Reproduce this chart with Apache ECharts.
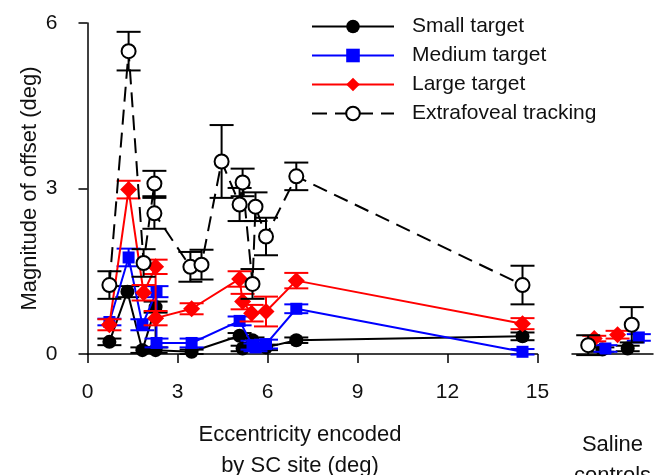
<!DOCTYPE html>
<html><head><meta charset="utf-8">
<script src="https://cdn.jsdelivr.net/npm/echarts@6/dist/echarts.min.js"></script>
<style>html,body{margin:0;padding:0;background:#fff}#c{width:655px;height:475px}</style>
</head><body><div id="c"></div>
<script>
// Tick values
const xTicks = [0, 3, 6, 9, 12, 15];
const yTicks = [0, 3, 6];
const seriesNames = ['Small target', 'Medium target', 'Large target', 'Extrafoveal tracking'];

// [eccentricity (deg), magnitude of offset (deg), error]
const smallTarget = [
  [0.73, 0.22, 0.06], [1.33, 1.13, 0.10], [1.83, 0.07, 0.05], [2.27, 0.85, 0.10], [2.27, 0.07, 0.05],
  [3.47, 0.04, 0.04], [5.07, 0.33, 0.05], [5.17, 0.10, 0.05], [5.50, 0.25, 0.05], [5.95, 0.12, 0.05],
  [6.96, 0.25, 0.05], [14.5, 0.32, 0.07]
];
const mediumTarget = [
  [0.73, 0.58, 0.06], [1.37, 1.75, 0.16], [1.83, 0.53, 0.10], [2.30, 1.13, 0.10], [2.30, 0.20, 0.08],
  [3.47, 0.20, 0.08], [5.07, 0.60, 0.08], [5.50, 0.16, 0.08], [5.60, 0.12, 0.07], [5.95, 0.18, 0.08],
  [6.96, 0.82, 0.08], [14.5, 0.04, 0.05]
];
const largeTarget = [
  [0.73, 0.53, 0.10], [1.37, 2.98, 0.16], [1.87, 1.11, 0.14], [2.27, 1.58, 0.13], [2.27, 0.65, 0.13],
  [3.47, 0.82, 0.10], [5.07, 1.36, 0.14], [5.17, 0.95, 0.14], [5.47, 0.74, 0.15], [5.95, 0.77, 0.27],
  [6.96, 1.33, 0.14], [14.5, 0.55, 0.10]
];
const extrafovealTracking = [
  [0.73, 1.25, 0.25], [1.37, 5.49, 0.35], [1.87, 1.65, 0.25], [2.23, 3.09, 0.23], [2.23, 2.55, 0.28],
  [3.43, 1.58, 0.27], [3.80, 1.62, 0.27], [4.47, 3.49, 0.66], [5.07, 2.71, 0.30], [5.17, 3.11, 0.25],
  [5.50, 1.27, 0.27], [5.60, 2.67, 0.26], [5.95, 2.13, 0.34], [6.96, 3.22, 0.25], [14.5, 1.25, 0.35]
];
// Saline controls: [jitter position within panel (0-8), magnitude, error]
const salineSmall = [[3.0, 0.08, 0.04], [5.5, 0.10, 0.05]];
const salineMedium = [[3.3, 0.10, 0.06], [6.6, 0.30, 0.06]];
const salineLarge = [[2.2, 0.28, 0.05], [4.5, 0.35, 0.07]];
const salineTracking = [[1.6, 0.16, 0.18], [5.9, 0.53, 0.32]];

const FONT = '"Liberation Sans", Arial, Helvetica, sans-serif';
const TXT = '#111';

function errData(arr) { return arr.map(d => [d[0], d[1] - d[2], d[1] + d[2]]); }
function ptData(arr) { return arr.map(d => [d[0], d[1]]); }
function errRender(color) {
  return function (params, api) {
    const x = api.value(0), lo = api.value(1), hi = api.value(2);
    const a = api.coord([x, lo]), b = api.coord([x, hi]);
    const w = 12;
    const style = { stroke: color, lineWidth: 2, fill: null };
    return { type: 'group', children: [
      { type: 'line', shape: { x1: a[0], y1: a[1], x2: b[0], y2: b[1] }, style },
      { type: 'line', shape: { x1: a[0] - w, y1: a[1], x2: a[0] + w, y2: a[1] }, style },
      { type: 'line', shape: { x1: b[0] - w, y1: b[1], x2: b[0] + w, y2: b[1] }, style }
    ]};
  };
}

const styles = [
  { color: '#000000', symbol: 'circle', size: 14, fill: '#000000', dash: 'solid' },
  { color: '#0000ff', symbol: 'rect', size: 12, fill: '#0000ff', dash: 'solid' },
  { color: '#ff0000', symbol: 'diamond', size: 17, fill: '#ff0000', dash: 'solid' },
  { color: '#000000', symbol: 'circle', size: 14, fill: '#ffffff', dash: [15, 8] }
];
const mainData = [smallTarget, mediumTarget, largeTarget, extrafovealTracking];
const salineData = [salineSmall, salineMedium, salineLarge, salineTracking];

const series = [];
mainData.forEach((arr, i) => {
  const s = styles[i];
  series.push({
    type: 'custom', name: seriesNames[i] + ' err', xAxisIndex: 0, yAxisIndex: 0, z: 2 + i * 2,
    data: errData(arr), encode: { x: 0, y: [1, 2] }, renderItem: errRender(s.color), silent: true
  });
  series.push({
    type: 'line', name: seriesNames[i], xAxisIndex: 0, yAxisIndex: 0, z: 3 + i * 2,
    data: ptData(arr), symbol: s.symbol, symbolSize: s.size, showSymbol: true,
    lineStyle: { color: s.color, width: 2, type: s.dash },
    itemStyle: { color: s.fill, borderColor: s.color, borderWidth: i === 3 ? 2 : 0 },
    emphasis: { disabled: true }
  });
});
salineData.forEach((arr, i) => {
  const s = styles[i];
  series.push({
    type: 'custom', name: seriesNames[i] + ' saline err', xAxisIndex: 1, yAxisIndex: 1, z: 2 + i * 2,
    data: errData(arr), encode: { x: 0, y: [1, 2] }, renderItem: errRender(s.color), silent: true
  });
  series.push({
    type: 'scatter', name: seriesNames[i], xAxisIndex: 1, yAxisIndex: 1, z: 3 + i * 2,
    data: ptData(arr), symbol: s.symbol, symbolSize: s.size,
    itemStyle: { color: s.fill, borderColor: s.color, borderWidth: i === 3 ? 2 : 0, opacity: 1 },
    emphasis: { disabled: true }
  });
});

const chart = echarts.init(document.getElementById('c'), null, { renderer: 'canvas' });
chart.setOption({
  animation: false,
  backgroundColor: '#fff',
  textStyle: { fontFamily: FONT },
  legend: {
    data: seriesNames, orient: 'vertical', left: 306, top: 11,
    itemWidth: 82, itemHeight: 17, itemGap: 8, selectedMode: false,
    textStyle: { fontSize: 21, color: TXT, fontFamily: FONT, padding: [0, 0, 0, 13] }
  },
  grid: [
    { left: 87.5, right: 117.5, top: 23, bottom: 121, containLabel: false, outerBoundsMode: 'none' },
    { left: 572, right: 2, top: 23, bottom: 121, containLabel: false, outerBoundsMode: 'none' }
  ],
  xAxis: [
    {
      type: 'value', gridIndex: 0, min: xTicks[0], max: xTicks[xTicks.length - 1], interval: 3,
      axisLine: { show: true, lineStyle: { color: '#000', width: 1.5 } },
      axisTick: { show: true, inside: false, length: 9, lineStyle: { color: '#000', width: 1.5 } },
      axisLabel: { fontSize: 21, color: TXT, margin: 28, fontFamily: FONT },
      splitLine: { show: false },
      name: 'Eccentricity encoded\nby SC site (deg)', nameLocation: 'middle', nameGap: 65,
      nameTextStyle: { fontSize: 22, color: TXT, lineHeight: 31, fontFamily: FONT, padding: [0, 25, 0, 0] }
    },
    {
      type: 'value', gridIndex: 1, min: 0, max: 8,
      axisLine: { show: true, onZero: false, lineStyle: { color: '#000', width: 1.5 } },
      axisTick: { show: false }, axisLabel: { show: false }, splitLine: { show: false },
      name: 'Saline\ncontrols', nameLocation: 'middle', nameGap: 75,
      nameTextStyle: { fontSize: 22, color: TXT, lineHeight: 31, fontFamily: FONT }
    }
  ],
  yAxis: [
    {
      type: 'value', gridIndex: 0, min: yTicks[0], max: yTicks[yTicks.length - 1], interval: 3,
      axisLine: { show: true, lineStyle: { color: '#000', width: 1.5 } },
      axisTick: { show: true, inside: false, length: 9, lineStyle: { color: '#000', width: 1.5 } },
      axisLabel: { fontSize: 21, color: TXT, margin: 30, fontFamily: FONT },
      splitLine: { show: false },
      name: 'Magnitude of offset (deg)', nameLocation: 'middle', nameGap: 47, nameMoveOverlap: false,
      nameTextStyle: { fontSize: 22, color: TXT, fontFamily: FONT }
    },
    {
      type: 'value', gridIndex: 1, min: 0, max: 6, show: false
    }
  ],
  series: series
});
</script></body></html>
